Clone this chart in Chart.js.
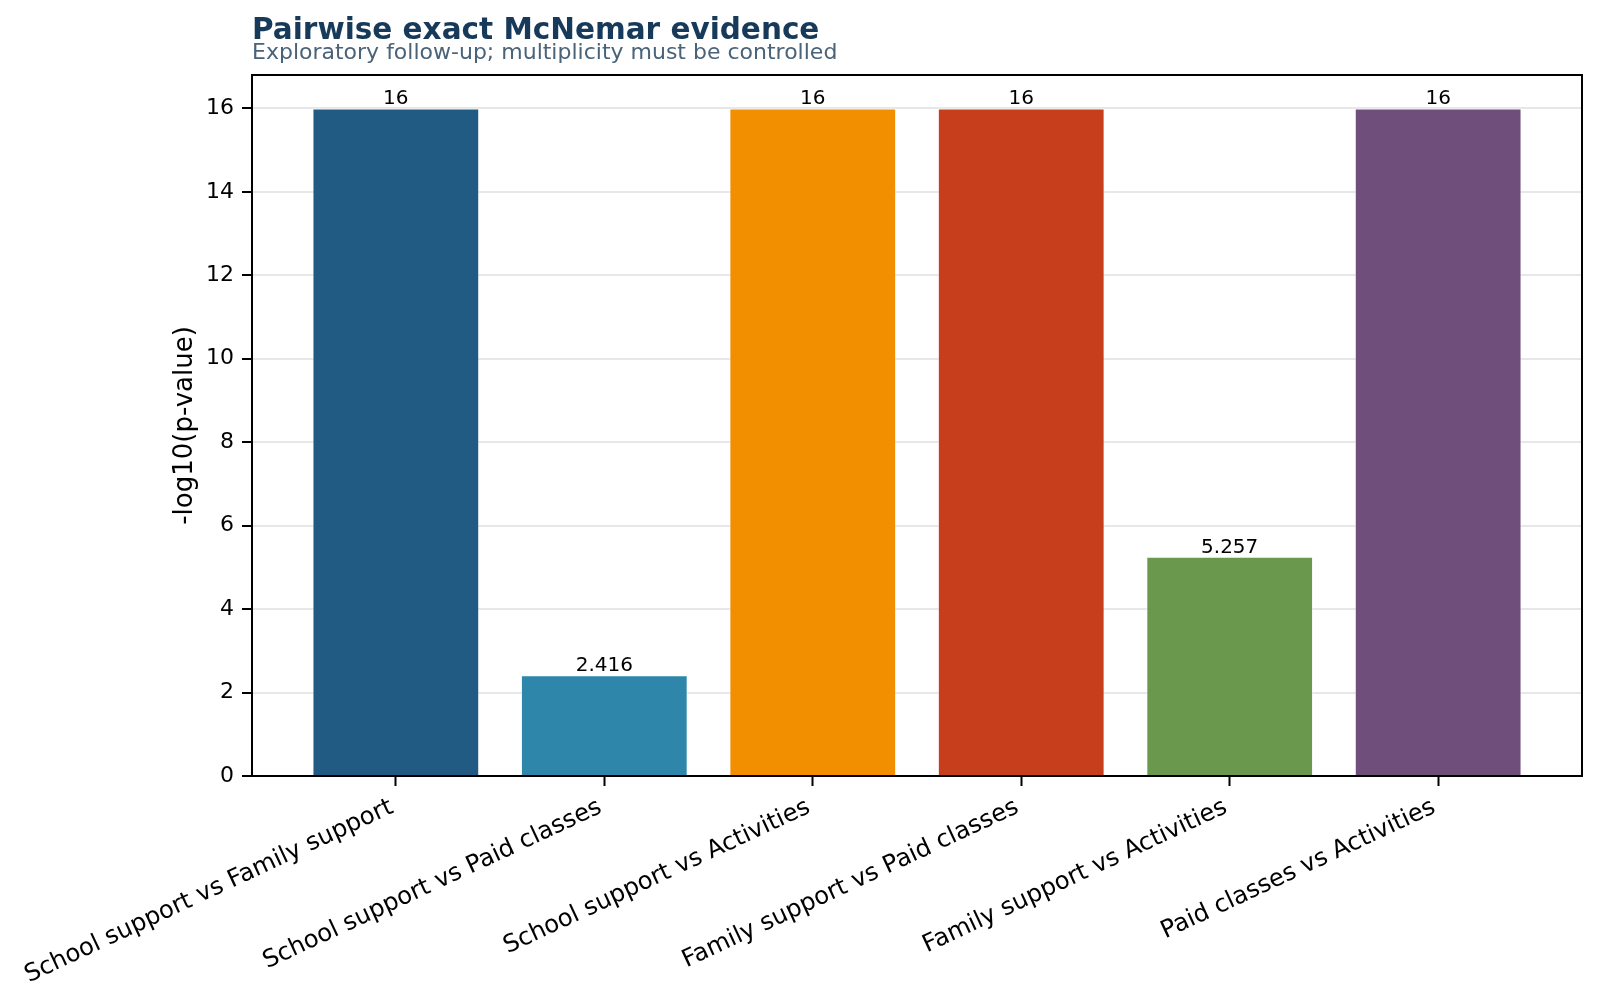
<!DOCTYPE html>
<html>
<head>
<meta charset="utf-8">
<script src="https://cdn.jsdelivr.net/npm/chart.js@4.4.1/dist/chart.umd.min.js"></script>
<style>
  html, body { margin: 0; padding: 0; background: #ffffff; }
  #wrap { width: 1600px; height: 1005px; position: relative; }
</style>
</head>
<body>
<div id="wrap"><canvas id="c" width="1600" height="1005"></canvas></div>
<script>
// ---- data ----
const categories = [
  'School support vs Family support',
  'School support vs Paid classes',
  'School support vs Activities',
  'Family support vs Paid classes',
  'Family support vs Activities',
  'Paid classes vs Activities'
];
const negLogP = [16, 2.416, 16, 16, 5.257, 16];
const barColors = ['#215a82', '#2e86ab', '#f18f01', '#c73e1d', '#6a994e', '#6f4e7c'];
const yTicks = [0, 2, 4, 6, 8, 10, 12, 14, 16];
const titleText = 'Pairwise exact McNemar evidence';
const subtitleText = 'Exploratory follow-up; multiplicity must be controlled';
const yAxisTitle = '-log10(p-value)';

const FONT = "'DejaVu Sans', sans-serif";

const headerPlugin = {
  id: 'header',
  afterDraw(chart) {
    const ctx = chart.ctx;
    ctx.save();
    ctx.textAlign = 'left';
    ctx.textBaseline = 'alphabetic';
    ctx.fillStyle = '#173a5a';
    ctx.font = 'bold 29.5px ' + FONT;
    ctx.fillText(titleText, 252, 39);
    ctx.fillStyle = '#4a6378';
    ctx.font = '22px ' + FONT;
    ctx.fillText(subtitleText, 252, 59);
    ctx.restore();
  }
};

const frameAndLabels = {
  id: 'frameAndLabels',
  afterDatasetsDraw(chart) {
    const ctx = chart.ctx;
    ctx.save();
    const meta = chart.getDatasetMeta(0);
    ctx.fillStyle = '#000';
    ctx.font = '20px ' + FONT;
    ctx.textAlign = 'center';
    ctx.textBaseline = 'alphabetic';
    meta.data.forEach((el, i) => {
      const v = negLogP[i];
      const txt = String(Number(v.toPrecision(4)));
      ctx.fillText(txt, el.x, el.y - 4);
    });
    ctx.restore();
  },
  afterDraw(chart) {
    const ctx = chart.ctx;
    const a = chart.chartArea;
    ctx.save();
    ctx.strokeStyle = '#000';
    ctx.lineWidth = 2;
    ctx.strokeRect(a.left, a.top, a.right - a.left, a.bottom - a.top);
    ctx.restore();
  }
};

const ctx = document.getElementById('c').getContext('2d');
new Chart(ctx, {
  type: 'bar',
  data: {
    datasets: [{
      data: negLogP.map((v, i) => ({ x: i, y: v })),
      backgroundColor: barColors,
      borderColor: 'rgba(255,255,255,0.55)',
      borderWidth: 1,
      borderSkipped: 'bottom',
      categoryPercentage: 1.0,
      barPercentage: 0.8
    }]
  },
  options: {
    responsive: false,
    animation: false,
    devicePixelRatio: 1,
    layout: { padding: { top: 75, right: 18, left: 166, bottom: 0 } },
    plugins: {
      legend: { display: false },
      tooltip: { enabled: false },
      title: { display: false }
    },
    scales: {
      x: {
        type: 'linear',
        offset: false,
        min: -0.69,
        max: 5.69,
        afterBuildTicks: (scale) => { scale.ticks = categories.map((c, i) => ({ value: i })); },
        afterFit: (scale) => {
          scale.height = 1005 - 776;
          scale.paddingLeft = 0;
          scale.paddingRight = 0;
        },
        ticks: {
          autoSkip: false,
          maxRotation: 25,
          minRotation: 25,
          padding: 7,
          labelOffset: -4,
          color: '#000',
          font: { family: FONT, size: 24.3 },
          callback: (v) => categories[v]
        },
        grid: {
          offset: false,
          drawOnChartArea: false,
          drawTicks: true,
          tickLength: 10,
          tickColor: '#000',
          tickWidth: 2
        },
        border: { display: false }
      },
      y: {
        min: 0,
        max: 16.8,
        z: 1,
        afterBuildTicks: (scale) => { scale.ticks = yTicks.map(v => ({ value: v })); },
        afterFit: (scale) => {
          scale.width = 252 - 166;
          scale.paddingTop = 0;
          scale.paddingBottom = 0;
        },
        ticks: {
          padding: 8,
          color: '#000',
          font: { family: FONT, size: 22 }
        },
        grid: {
          color: 'rgba(176,176,176,0.3)',
          lineWidth: 2,
          tickLength: 10,
          tickColor: '#000',
          tickWidth: 2
        },
        border: { display: false },
        title: {
          display: true,
          text: yAxisTitle,
          color: '#000',
          font: { family: FONT, size: 26 },
          padding: { top: 4, bottom: 4 }
        }
      }
    }
  },
  plugins: [headerPlugin, frameAndLabels]
});
</script>
</body>
</html>
